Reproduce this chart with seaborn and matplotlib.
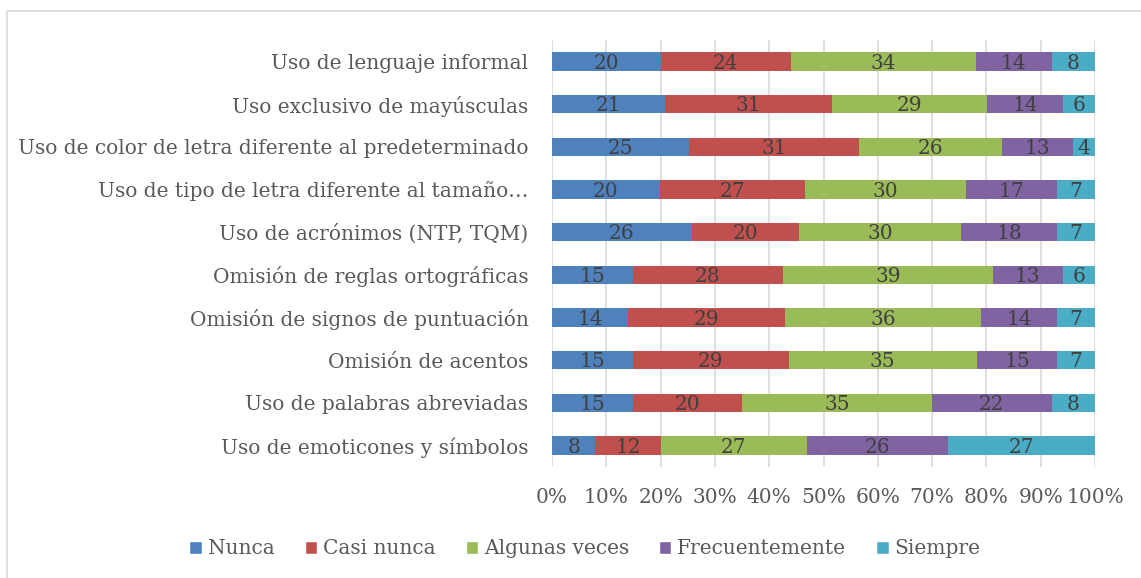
import numpy as np
import pandas as pd
import seaborn as sns
import matplotlib
matplotlib.use("Agg")
import matplotlib.pyplot as plt
from matplotlib.patches import Rectangle, Patch

# categorias (de arriba hacia abajo, como en la imagen)
items = [
    "Uso de lenguaje informal",
    "Uso exclusivo de mayúsculas",
    "Uso de color de letra diferente al predeterminado",
    "Uso de tipo de letra diferente al tamaño…",
    "Uso de acrónimos (NTP, TQM)",
    "Omisión de reglas ortográficas",
    "Omisión de signos de puntuación",
    "Omisión de acentos",
    "Uso de palabras abreviadas",
    "Uso de emoticones y símbolos",
]
respuestas = ["Nunca", "Casi nunca", "Algunas veces", "Frecuentemente", "Siempre"]
nunca = [20, 21, 25, 20, 26, 15, 14, 15, 15, 8]
casi_nunca = [24, 31, 31, 27, 20, 28, 29, 29, 20, 12]
algunas_veces = [34, 29, 26, 30, 30, 39, 36, 35, 35, 27]
frecuentemente = [14, 14, 13, 17, 18, 13, 14, 15, 22, 26]
siempre = [8, 6, 4, 7, 7, 6, 7, 7, 8, 27]
colores = ["#4F81BD", "#C0504D", "#9BBB59", "#8064A2", "#4BACC6"]

df = pd.DataFrame({"item": items, "Nunca": nunca, "Casi nunca": casi_nunca,
                   "Algunas veces": algunas_veces, "Frecuentemente": frecuentemente,
                   "Siempre": siempre})
totales = df[respuestas].sum(axis=1)
pct = df[respuestas].div(totales, axis=0) * 100
acum = pct.cumsum(axis=1)

sns.set_theme(style="white")
plt.rcParams["font.family"] = ["DejaVu Serif"]
txt = "#595959"

fig = plt.figure(figsize=(11.41, 5.78), dpi=100)
ax = fig.add_axes([552 / 1141, 1 - 467 / 578, 543 / 1141, 427 / 578])

# barras apiladas: se dibuja el acumulado de atras hacia adelante
for resp, col in reversed(list(zip(respuestas, colores))):
    sns.barplot(x=acum[resp], y=df["item"], orient="h", color=col,
                width=0.43, saturation=1, ax=ax, linewidth=0)

for i in range(len(items)):
    izq = 0
    for resp in respuestas:
        w = pct.loc[i, resp]
        ax.text(izq + w / 2, i + 0.04, str(df.loc[i, resp]), ha="center", va="center",
                fontsize=14.5, color="#404040")
        izq += w

ax.set_xlim(0, 100)
ax.set_ylim(len(items) - 0.5, -0.5)
ax.set_xticks(np.arange(0, 101, 10))
ax.set_xticklabels([f"{v}%" for v in range(0, 101, 10)])
ax.xaxis.grid(True, color="#D9D9D9", linewidth=1.2)
ax.set_axisbelow(True)
for s in ax.spines.values():
    s.set_visible(False)
ax.set_xlabel("")
ax.set_ylabel("")
ax.tick_params(axis="x", labelsize=14.5, colors=txt, pad=15, length=0)
ax.tick_params(axis="y", labelsize=14.5, colors=txt, pad=17, length=0)

handles = [Patch(facecolor=c, label=r) for r, c in zip(respuestas, colores)]
leg = fig.legend(handles=handles, loc="center", bbox_to_anchor=(585 / 1141, 1 - 549 / 578),
                 ncol=5, frameon=False, fontsize=14.5, handlelength=0.6, handleheight=0.6,
                 handletextpad=0.3, columnspacing=1.5)
for t in leg.get_texts():
    t.set_color(txt)

fig.patches.append(Rectangle((7 / 1141, -0.01), 1.1, 1 - 11 / 578 + 0.01, transform=fig.transFigure,
                             fill=False, edgecolor="#D9D9D9", linewidth=1.2))

fig.savefig("out.png", dpi=100)
